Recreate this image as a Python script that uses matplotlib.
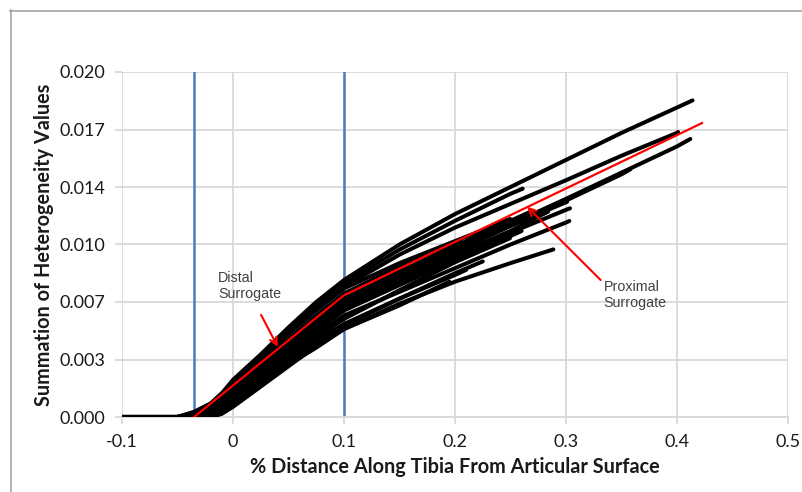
import numpy as np
import matplotlib
matplotlib.use("Agg")
import matplotlib.pyplot as plt
from matplotlib.lines import Line2D

plt.rcParams['font.family'] = ['Lato', 'DejaVu Sans']

# ---------------- data ----------------
X_TICKS = [-0.1, 0.0, 0.1, 0.2, 0.3, 0.4, 0.5]
X_TICK_LABELS = ['-0.1', '0', '0.1', '0.2', '0.3', '0.4', '0.5']
Y_TICKS = [0.0, 0.0034, 0.0068, 0.0102, 0.0136, 0.0170, 0.0204]
Y_TICK_LABELS = ['0.000', '0.003', '0.007', '0.010', '0.014', '0.017', '0.020']

# sample positions shared by the specimen curves
XS = [-0.1, -0.05, -0.035, -0.02, -0.01, 0.0, 0.025, 0.05, 0.075, 0.1,
      0.15, 0.2, 0.25, 0.3, 0.35, 0.4]

# specimen curves: values (x1e-3) at XS up to the end, then the end point
SPECIMENS = [
    ([0, 0, 0.3, 0.8, 1.4, 2.2, 3.7, 5.3, 6.8, 8.1, 10.2, 12.0, 13.6, 15.2, 16.8, 18.3], (0.414, 18.72)),
    ([0, 0, 0.3, 0.8, 1.4, 2.1, 3.6, 5.1, 6.6, 7.9, 9.9, 11.6, 13.2], (0.261, 13.5)),
    ([0, 0, 0.2, 0.7, 1.3, 2.0, 3.5, 5.0, 6.4, 7.7, 9.6, 11.2, 12.6, 14.0, 15.45, 16.8], (0.401, 16.85)),
    ([0, 0, 0.2, 0.7, 1.3, 2.0, 3.4, 4.9, 6.3, 7.6, 9.1, 10.4, 11.7], (0.235, 11.3)),
    ([0, 0, 0.1, 0.5, 1.0, 1.7, 3.0, 4.4, 5.8, 7.0, 8.5, 9.9, 11.4, 12.9, 14.45, 16.0], (0.412, 16.44)),
    ([0, 0, 0.1, 0.4, 0.9, 1.6, 2.9, 4.2, 5.6, 6.8, 8.3, 9.8, 11.3, 12.8, 14.35], (0.358, 14.65)),
    ([0, 0, 0.1, 0.5, 1.0, 1.7, 3.0, 4.3, 5.6, 6.8, 8.3, 9.8, 11.3, 12.7], (0.301, 12.72)),
    ([0, 0, 0.1, 0.5, 1.0, 1.7, 3.1, 4.5, 5.8, 7.0, 8.6, 10.1, 11.6], (0.27, 12.2)),
    ([0, 0, 0.1, 0.4, 0.9, 1.6, 2.8, 4.1, 5.4, 6.6, 8.1, 9.6, 11.0], (0.284, 12.15)),
    ([0, 0, 0.1, 0.4, 0.9, 1.6, 2.8, 4.0, 5.3, 6.5, 8.0, 9.4, 10.9, 12.25], (0.3036, 12.34)),
    ([0, 0, 0.0, 0.3, 0.8, 1.5, 2.7, 3.9, 5.1, 6.3, 7.8, 9.3, 10.7], (0.26, 11.0)),
    ([0, 0, 0.0, 0.3, 0.7, 1.3, 2.5, 3.7, 4.9, 6.0, 7.4, 8.8, 10.2, 11.5], (0.303, 11.59)),
    ([0, 0, 0.0, 0.2, 0.5, 1.1, 2.3, 3.5, 4.7, 5.8, 7.5, 9.15], (0.2495, 10.57)),
    ([0, 0, 0.0, 0.2, 0.5, 1.0, 2.1, 3.2, 4.3, 5.4, 7.0, 8.5], (0.225, 9.2)),
    ([0, 0, 0.0, 0.1, 0.4, 0.9, 2.0, 3.1, 4.1, 5.2, 6.6], (0.195, 8.0)),
    ([0, 0, 0.0, 0.0, 0.2, 0.6, 1.8, 3.0, 4.2, 5.2, 6.7, 8.0, 9.1], (0.2886, 9.91)),
    ([0, 0, 0.0, 0.0, 0.2, 0.7, 2.0, 3.3, 4.5, 5.5, 7.0, 8.4], (0.21, 8.7)),
    ([0, 0, 0.2, 0.6, 1.1, 1.8, 3.2, 4.6, 6.0, 7.3, 8.9, 10.3], (0.205, 10.45)),
]

# surrogate (red) curve
SURR_X = [-0.035, 0.1, 0.4225]
SURR_Y = [0.0, 0.0072, 0.01738]

BOUNDARY_X = [-0.035, 0.1]

# ---------------- figure ----------------
W, H = 802, 492
fig = plt.figure(figsize=(W / 100, H / 100), dpi=100)
ax = fig.add_axes([122 / W, 1 - 417 / H, (788 - 122) / W, (417 - 72) / H])

ax.set_xlim(-0.1, 0.5)
ax.set_ylim(0, 0.0204)

grid_c = '#d9d9d9'
ax.set_xticks(X_TICKS)
ax.set_xticklabels(X_TICK_LABELS)
ax.set_yticks(Y_TICKS)
ax.set_yticklabels(Y_TICK_LABELS)
ax.grid(True, color=grid_c, lw=1.3, zorder=0)
for s in ax.spines.values():
    s.set_visible(False)
ax.spines['bottom'].set_visible(True)
ax.spines['bottom'].set_color(grid_c)
ax.spines['bottom'].set_linewidth(1.3)
ax.tick_params(axis='both', which='major', length=5, width=1.3, color=grid_c,
               labelsize=13, labelcolor='#1a1a1a', pad=7)

for xv in BOUNDARY_X:
    ax.axvline(xv, color='#4a7ebb', lw=1.8, zorder=2)

for vals, (ex, ey) in SPECIMENS:
    xs = XS[:len(vals)] + [ex]
    ys = [v * 1e-3 for v in vals] + [ey * 1e-3]
    ax.plot(xs, ys, color='black', lw=2.9, solid_capstyle='round',
            solid_joinstyle='round', zorder=3)

ax.plot(SURR_X, SURR_Y, color='#ff0000', lw=1.6, zorder=4)

ax.set_xlabel('% Distance Along Tibia From Articular Surface', fontsize=14.3,
              fontweight='bold', color='#1a1a1a', labelpad=5)
ax.set_ylabel('Summation of Heterogeneity Values', fontsize=14.3,
              fontweight='bold', color='#1a1a1a', labelpad=4)

# annotations
ann_kw = dict(fontsize=10.3, color='#404040', family=['Liberation Sans', 'DejaVu Sans'],
              linespacing=1.15, ha='left', va='center')
ax.annotate('', xy=(0.0403, 0.00415), xytext=(0.0253, 0.00604),
            arrowprops=dict(arrowstyle='->', color='red', lw=1.5,
                            shrinkA=0, shrinkB=0, mutation_scale=13), zorder=5)
ax.text(-0.0136, 0.00773, 'Distal\nSurrogate', **ann_kw)
ax.annotate('', xy=(0.2651, 0.01243), xytext=(0.3312, 0.00810),
            arrowprops=dict(arrowstyle='->', color='red', lw=1.5,
                            shrinkA=0, shrinkB=0, mutation_scale=13), zorder=5)
ax.text(0.334, 0.00720, 'Proximal\nSurrogate', **ann_kw)

# outer frame (top and left edges)
frame_c = '#a6a6a6'
fig.add_artist(Line2D([10 / W, 1.0], [1 - 10.5 / H, 1 - 10.5 / H],
                      transform=fig.transFigure, color=frame_c, lw=1.2))
fig.add_artist(Line2D([10.5 / W, 10.5 / W], [0.0, 1 - 10 / H],
                      transform=fig.transFigure, color=frame_c, lw=1.2))

fig.savefig('out.png', dpi=100)
